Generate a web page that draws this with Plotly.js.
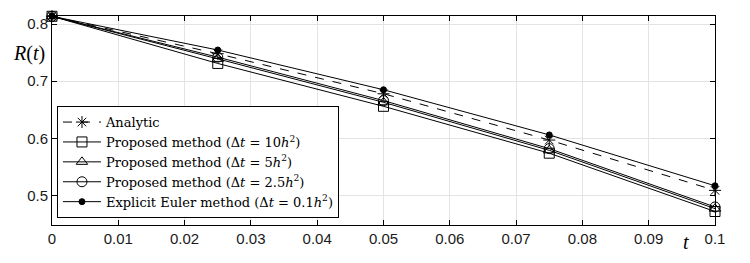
<!DOCTYPE html>
<html>
<head>
<meta charset="utf-8">
<script src="https://cdn.plot.ly/plotly-3.0.1.min.js"></script>
<style>html,body{margin:0;padding:0;background:#fff;}#chart{width:750px;height:263px;}</style>
</head>
<body>
<div id="chart"></div>
<script>
const tVals = [0, 0.025, 0.05, 0.075, 0.1];
const analytic = [0.8135, 0.748, 0.678, 0.597, 0.509];
const proposed10 = [0.8135, 0.731, 0.656, 0.574, 0.472];
const proposed5 = [0.8135, 0.739, 0.663, 0.579, 0.477];
const proposed25 = [0.8135, 0.742, 0.666, 0.582, 0.480];
const euler = [0.8135, 0.7545, 0.685, 0.606, 0.517];
const xTickVals = [0, 0.01, 0.02, 0.03, 0.04, 0.05, 0.06, 0.07, 0.08, 0.09, 0.1];
const xTickText = ['0', '0.01', '0.02', '0.03', '0.04', '0.05', '0.06', '0.07', '0.08', '0.09', '0.1'];
const yTickVals = [0.5, 0.6, 0.7, 0.8];
const yTickText = ['0.5', '0.6', '0.7', '0.8'];
const names = [
  'Analytic',
  'Proposed method (Δ<i>t</i> = 10<i>h</i><sup>2</sup>)',
  'Proposed method (Δ<i>t</i> = 5<i>h</i><sup>2</sup>)',
  'Proposed method (Δ<i>t</i> = 2.5<i>h</i><sup>2</sup>)',
  'Explicit Euler method (Δ<i>t</i> = 0.1<i>h</i><sup>2</sup>)'
];

function tr(y, name, symbol, size, dash) {
  return {
    x: tVals, y: y, name: name, type: 'scatter', mode: 'lines+markers',
    cliponaxis: false,
    line: {color: '#000', width: 1, dash: dash || 'solid'},
    marker: {symbol: symbol, size: size, color: '#000', line: {color: '#000', width: 1}}
  };
}

const data = [
  tr(analytic, names[0], 'asterisk-open', 10, 'dash'),
  tr(proposed10, names[1], 'square-open', 10),
  tr(proposed5, names[2], 'triangle-up-open', 10),
  tr(proposed25, names[3], 'circle-open', 10),
  tr(euler, names[4], 'circle', 6)
];

const axFont = {family: 'Liberation Sans, Arial, sans-serif', size: 15, color: '#1a1a1a'};
const layout = {
  width: 750, height: 263,
  margin: {l: 52, r: 35, t: 16, b: 38},
  paper_bgcolor: '#fff', plot_bgcolor: '#fff',
  showlegend: true,
  legend: {
    x: 0.0075, y: 0.033, xanchor: 'left', yanchor: 'bottom',
    bgcolor: '#fff', bordercolor: '#000', borderwidth: 1,
    font: {family: 'DejaVu Serif, serif', size: 13, color: '#000'},
    tracegroupgap: 0, itemwidth: 38
  },
  xaxis: {
    range: [0, 0.1], tickvals: xTickVals, ticktext: xTickText,
    ticks: 'inside', ticklen: 5, tickcolor: '#000', tickwidth: 1,
    showline: true, linecolor: '#000', linewidth: 1, mirror: 'allticks',
    showgrid: true, gridcolor: '#e3e3e3', gridwidth: 1, zeroline: false,
    tickfont: axFont
  },
  yaxis: {
    range: [0.4484, 0.814], tickvals: yTickVals, ticktext: yTickText,
    ticks: 'inside', ticklen: 5, tickcolor: '#000', tickwidth: 1,
    showline: true, linecolor: '#000', linewidth: 1, mirror: 'allticks',
    showgrid: true, gridcolor: '#e3e3e3', gridwidth: 1, zeroline: false,
    tickfont: axFont
  },
  annotations: [
    {text: '<i>R</i>(<i>t</i>)', xref: 'paper', yref: 'paper', x: -0.008, y: 0.82,
     xanchor: 'right', yanchor: 'middle', showarrow: false,
     font: {family: 'Liberation Serif, Times New Roman, serif', size: 20, color: '#000'}},
    {text: '<i>t</i>', xref: 'paper', yref: 'paper', x: 0.957, y: -0.081,
     xanchor: 'center', yanchor: 'middle', showarrow: false,
     font: {family: 'Liberation Serif, Times New Roman, serif', size: 20, color: '#000'}}
  ]
};

Plotly.newPlot('chart', data, layout, {displayModeBar: false, staticPlot: true});
</script>
</body>
</html>
